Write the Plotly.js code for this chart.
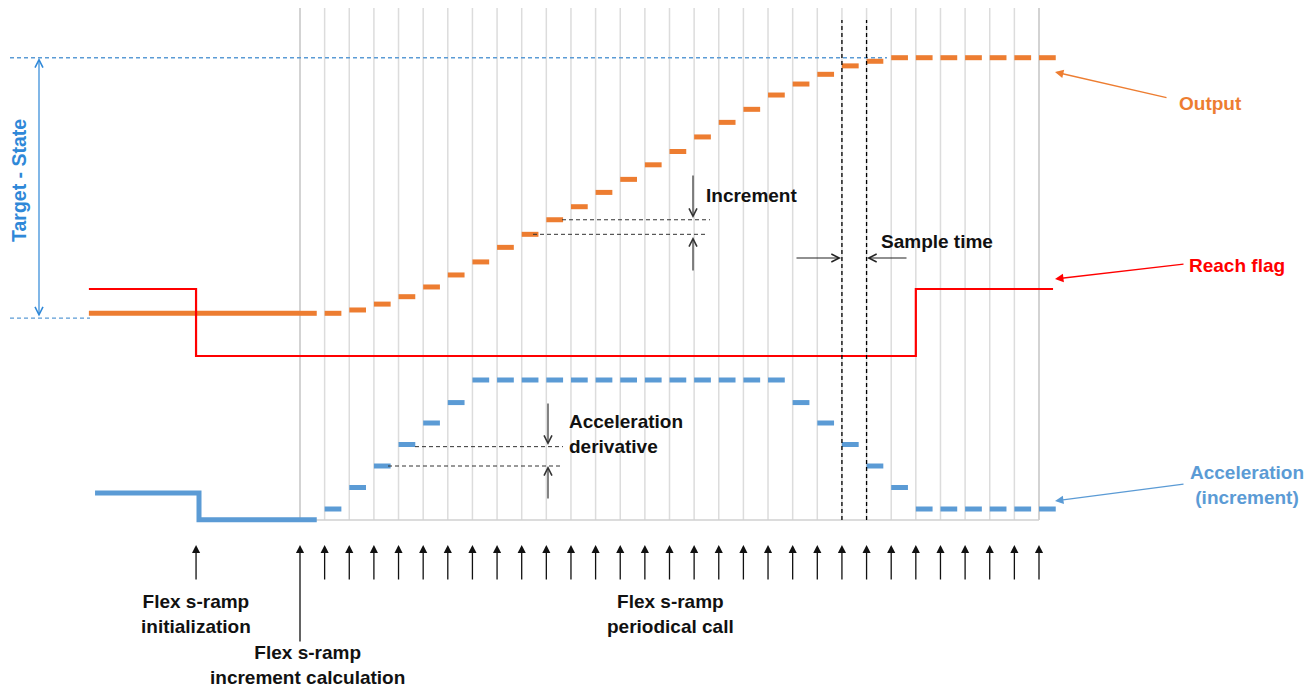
<!DOCTYPE html>
<html><head><meta charset="utf-8">
<script src="https://cdn.plot.ly/plotly-3.0.1.min.js"></script>
<style>html,body{margin:0;padding:0;background:#fff;}#chart{width:1315px;height:691px;}</style>
</head><body><div id="chart"></div>
<script>
// ---- data (time in sample periods, sample 0 = first increment calculation) ----
const sampleTimes = [0,1,2,3,4,5,6,7,8,9,10,11,12,13,14,15,16,17,18,19,20,21,22,23,24,25,26,27,28,29,30];
// output, % of (target - state)
const outputPct = [0,0,1.3,3.6,6.5,10.3,15.0,20.1,25.8,30.9,36.6,41.7,47.3,52.4,58.1,63.3,69.0,74.7,79.8,85.4,89.7,93.5,96.8,98.6,100,100,100,100,100,100,100];
// acceleration (increment), in jerk steps
const accelSteps = [0,0.5,1.5,2.5,3.5,4.5,5.45,6.5,6.5,6.5,6.5,6.5,6.5,6.5,6.5,6.5,6.5,6.5,6.5,6.5,5.45,4.5,3.5,2.5,1.5,0.5,0.5,0.5,0.5,0.5,0.5];
// before the periodic calls
const preOutTimes = [-8.57, 0];
const preOutValues = [0, 0];
const preAccTimes = [-8.32, -4.1, 0];
const preAccValues = [1.25, 0, 0];
// reach flag
const flagTimes = [-8.57, -4.22, 25.0, 30.57];
const flagValues = [1, 0, 1, 1];
const initTime = -4.22;
const targetPct = 100;
const statePct = -1.9;
const sampleMarkA = 22, sampleMarkB = 23;

// ---- layout helpers (positions only) ----
const W = 1315, H = 691;
const DT = 739 / 30, X0 = 300;
const tx = p => (p - X0) / DT;
const py = p => 1 - p / H;
const pxp = p => p / W;
const FONT = 'Liberation Sans, Arial, sans-serif';
const ORANGE = '#ED7D31', BLUE = '#5B9BD5', RED = '#FF0000', TBLUE = '#2F88D8';
const DASHLEN = 0.68;
const FS = 19;

function dashes(ts, vs, len) {
  const x = [], y = [];
  ts.forEach((t, i) => { x.push(t, t + len, null); y.push(vs[i], vs[i], null); });
  return {x, y};
}
const od = dashes(sampleTimes, outputPct, DASHLEN);
const ad = dashes(sampleTimes, accelSteps, DASHLEN);

const base = {type: 'scatter', mode: 'lines', hoverinfo: 'skip'};
const traces = [
  Object.assign({}, base, {x: [tx(10), tx(887)], y: [targetPct, targetPct], yaxis: 'y', line: {color: BLUE, width: 1.4, dash: '4px,3px'}}),
  Object.assign({}, base, {x: [tx(10), tx(90)], y: [statePct, statePct], yaxis: 'y', line: {color: BLUE, width: 1.4, dash: '4px,3px'}}),
  Object.assign({}, base, {x: preOutTimes, y: preOutValues, yaxis: 'y', line: {color: ORANGE, width: 5}}),
  Object.assign({}, base, {x: od.x, y: od.y, yaxis: 'y', connectgaps: false, line: {color: ORANGE, width: 5}}),
  Object.assign({}, base, {x: flagTimes, y: flagValues, yaxis: 'y3', line: {color: RED, width: 2.2, shape: 'hv'}}),
  Object.assign({}, base, {x: preAccTimes, y: preAccValues, yaxis: 'y2', line: {color: BLUE, width: 5, shape: 'hv'}}),
  Object.assign({}, base, {x: ad.x, y: ad.y, yaxis: 'y2', connectgaps: false, line: {color: BLUE, width: 5}}),
  // increment reference lines
  Object.assign({}, base, {x: [tx(562), tx(710)], y: [outputPct[10], outputPct[10]], yaxis: 'y', line: {color: '#333', width: 1, dash: '4px,3px'}}),
  Object.assign({}, base, {x: [tx(533), tx(706)], y: [outputPct[9], outputPct[9]], yaxis: 'y', line: {color: '#333', width: 1, dash: '4px,3px'}}),
  // acceleration derivative reference lines
  Object.assign({}, base, {x: [tx(415), tx(563)], y: [accelSteps[4] - 0.1, accelSteps[4] - 0.1], yaxis: 'y2', line: {color: '#333', width: 1, dash: '4px,3px'}}),
  Object.assign({}, base, {x: [tx(388), tx(562)], y: [accelSteps[3], accelSteps[3]], yaxis: 'y2', line: {color: '#333', width: 1, dash: '4px,3px'}})
];

const shapes = [];
sampleTimes.forEach((t, i) => {
  const edge = (i === 0 || i === sampleTimes.length - 1);
  shapes.push({type: 'line', layer: 'below', xref: 'x', yref: 'paper', x0: t, x1: t, y0: py(520), y1: py(8),
    line: {color: edge ? '#C4C4C4' : '#DCDCDC', width: 1.5}});
});
shapes.push({type: 'line', layer: 'below', xref: 'x', yref: 'paper', x0: sampleTimes[0], x1: sampleTimes[sampleTimes.length - 1],
  y0: py(520), y1: py(520), line: {color: '#D0D0D0', width: 1.5}});
[sampleMarkA, sampleMarkB].forEach(t => shapes.push({type: 'line', layer: 'above', xref: 'x', yref: 'paper', x0: t, x1: t,
  y0: py(520), y1: py(20), line: {color: '#000', width: 1.3, dash: '4px,3px'}}));

const ann = [];
function arrow(tipX, tipY, tailX, tailY, o) {
  o = o || {};
  const a = {text: '', showarrow: true, xref: o.xref || 'paper', yref: 'paper',
    x: o.xref === 'x' ? o.t : pxp(tipX), y: py(tipY), ax: tailX - tipX, ay: tailY - tipY,
    arrowcolor: o.color || '#222', arrowwidth: o.width || 1.3, arrowhead: o.head === undefined ? 2 : o.head,
    arrowsize: o.size || 1.2, standoff: 0, startstandoff: 0};
  if (o.both) { a.arrowside = 'end+start'; a.startarrowhead = o.head; a.startarrowsize = o.size || 1.2; }
  ann.push(a);
}
function label(text, x, y, o) {
  o = o || {};
  ann.push({text: text, showarrow: false, xref: 'paper', yref: 'paper', x: pxp(x), y: py(y),
    xanchor: o.xanchor || 'center', yanchor: 'middle', align: o.align || 'center', textangle: o.angle || 0,
    font: {family: FONT, size: o.size || FS, color: o.color || '#111'}});
}
// Target - State double arrow
arrow(39, 58, 39, 318, {color: TBLUE, head: 5, size: 1.3, width: 1.2, both: true});
label('<b>Target - State</b>', 19, 181, {color: TBLUE, angle: -90, size: 19.5});
// series call-outs
arrow(1055, 72, 1168, 98, {color: ORANGE, head: 2, size: 1.3, width: 1.3});
label('<b>Output</b>', 1210, 104, {color: ORANGE});
arrow(1055, 279, 1185, 264, {color: RED, head: 2, size: 1.3, width: 1.3});
label('<b>Reach flag</b>', 1237, 265, {color: RED});
arrow(1055, 501, 1185, 484, {color: BLUE, head: 2, size: 1.3, width: 1.3});
label('<b>Acceleration<br>(increment)</b>', 1247, 485, {color: BLUE});
// Increment
arrow(693, 218, 693, 174, {head: 5, size: 1.3, width: 1.2, color: '#333'});
arrow(693, 237, 693, 272, {head: 5, size: 1.3, width: 1.2, color: '#333'});
label('<b>Increment</b>', 704, 195, {xanchor: 'left'});
// Acceleration derivative
arrow(548, 445, 548, 402, {head: 5, size: 1.3, width: 1.2, color: '#333'});
arrow(548, 466, 548, 500, {head: 5, size: 1.3, width: 1.2, color: '#333'});
label('<b>Acceleration<br>derivative</b>', 567, 434, {xanchor: 'left', align: 'left'});
// Sample time
arrow(841, 258, 795, 258, {head: 5, size: 1.3, width: 1.2, color: '#222'});
arrow(867, 258, 908, 258, {head: 5, size: 1.3, width: 1.2, color: '#222'});
label('<b>Sample time</b>', 879, 241, {xanchor: 'left'});
// call arrows at the bottom
arrow(0, 545, 0, 581, {xref: 'x', t: initTime, head: 2, size: 1.25, width: 1.3, color: '#111'});
sampleTimes.forEach((t, i) => arrow(0, 545, 0, i === 0 ? 643 : 581, {xref: 'x', t: t, head: 2, size: 1.25, width: 1.3, color: '#111'}));
label('<b>Flex s-ramp<br>initialization</b>', 196, 614);
label('<b>Flex s-ramp<br>increment calculation</b>', 307, 665);
label('<b>Flex s-ramp<br>periodical call</b>', 670, 614);

const k1 = 2.556, k2 = 21.5, k3 = 67;
const layout = {
  width: W, height: H, margin: {l: 0, r: 0, t: 0, b: 0},
  paper_bgcolor: '#fff', plot_bgcolor: '#fff', showlegend: false,
  xaxis: {range: [tx(0), tx(W)], visible: false, fixedrange: true},
  yaxis: {range: [-(H - 313.3) / k1, 313.3 / k1], visible: false, fixedrange: true},
  yaxis2: {range: [-(H - 519.75) / k2, 519.75 / k2], visible: false, overlaying: 'y', fixedrange: true},
  yaxis3: {range: [-(H - 356) / k3, 356 / k3], visible: false, overlaying: 'y', fixedrange: true},
  shapes: shapes, annotations: ann
};
Plotly.newPlot('chart', traces, layout, {displayModeBar: false, staticPlot: true});
</script></body></html>
